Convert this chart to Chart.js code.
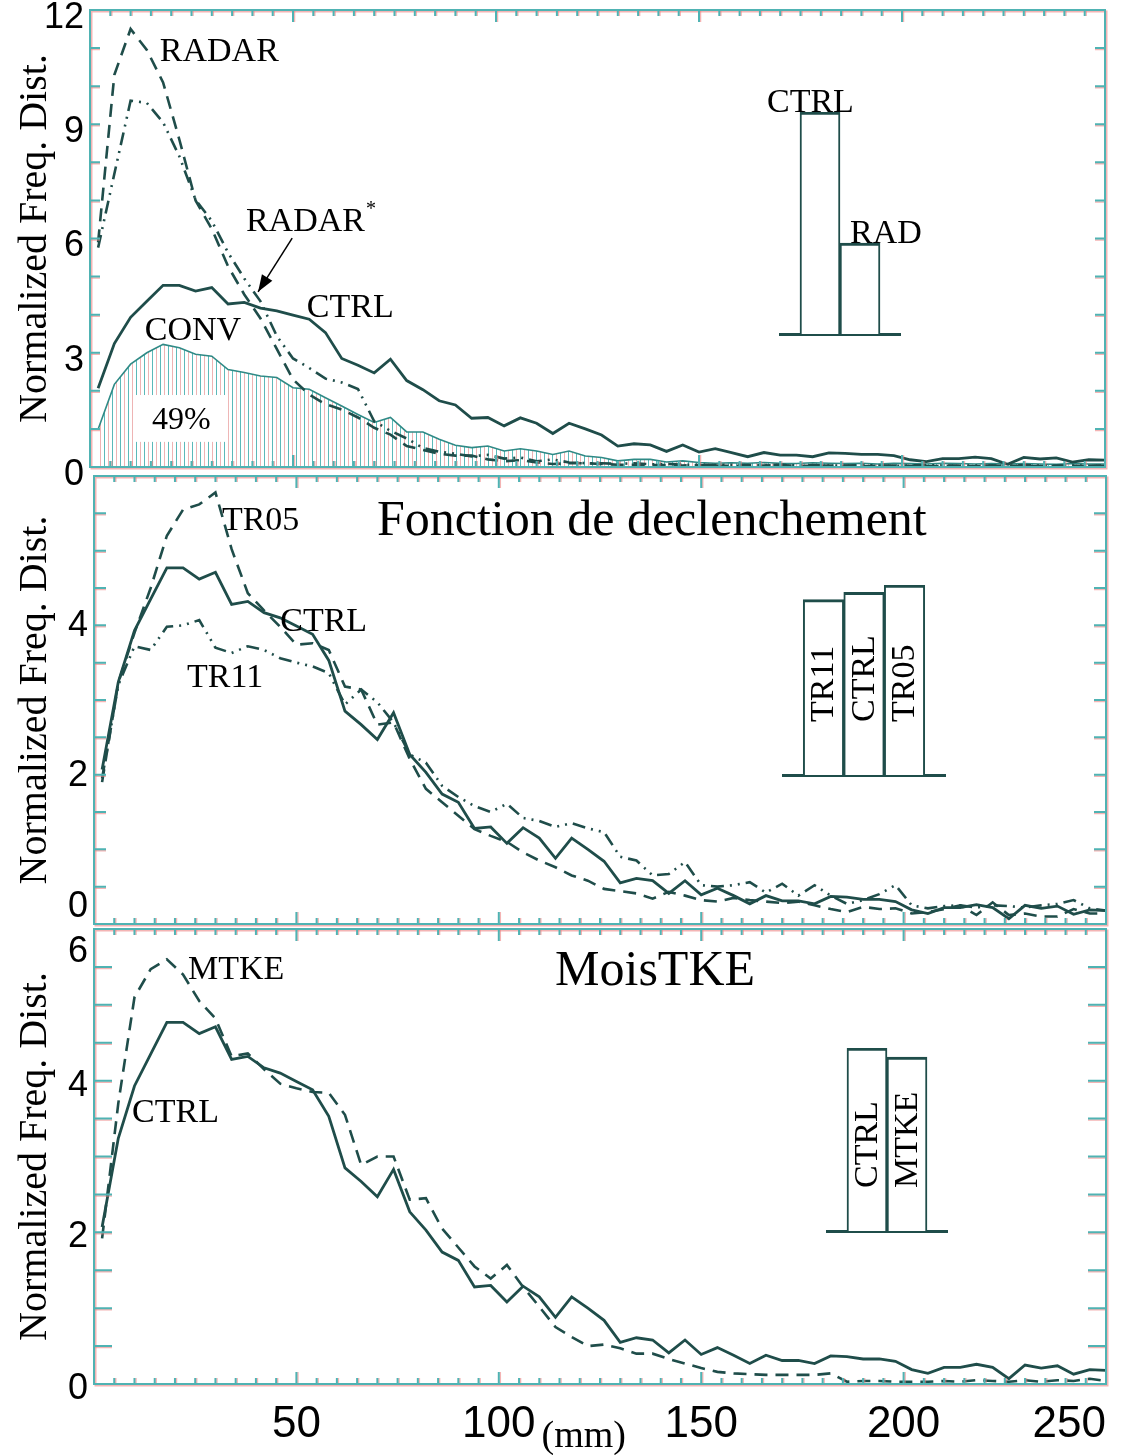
<!DOCTYPE html>
<html>
<head>
<meta charset="utf-8">
<script src="https://cdn.jsdelivr.net/npm/chart.js@4.4.0/dist/chart.umd.min.js"></script>
<style>
  body { margin: 0; background: #fff; width: 1131px; height: 1455px; position: relative; overflow: hidden; }
  canvas { position: absolute; }
</style>
</head>
<body>
<canvas id="p1" width="1131" height="500" style="left:0;top:0"></canvas>
<canvas id="p2" width="1131" height="510" style="left:0;top:440px"></canvas>
<canvas id="p3" width="1131" height="565" style="left:0;top:890px"></canvas>
<canvas id="b1" width="180" height="290" style="left:760px;top:60px"></canvas>
<canvas id="b2" width="202" height="230" style="left:763px;top:560px"></canvas>
<canvas id="b3" width="160" height="230" style="left:807px;top:1020px"></canvas>
<script>
// bin centres (mm)
const mm = [2, 6, 10, 14, 18, 22, 26, 30, 34, 38, 42, 46, 50, 54, 58, 62, 66, 70, 74, 78,
  82, 86, 90, 94, 98, 102, 106, 110, 114, 118, 122, 126, 130, 134, 138, 142, 146, 150, 154, 158,
  162, 166, 170, 174, 178, 182, 186, 190, 194, 198, 202, 206, 210, 214, 218, 222, 226, 230, 234, 238,
  242, 246, 250];

const ctrl = [2.07, 3.24, 3.93, 4.35, 4.77, 4.77, 4.62, 4.71, 4.28, 4.32,
  4.17, 4.10, 3.99, 3.88, 3.53, 2.85, 2.67, 2.47, 2.83, 2.27,
  2.03, 1.74, 1.63, 1.28, 1.30, 1.08, 1.29, 1.15, 0.88, 1.15,
  1.00, 0.84, 0.55, 0.61, 0.58, 0.41, 0.58, 0.39, 0.48, 0.38,
  0.27, 0.38, 0.31, 0.31, 0.27, 0.37, 0.36, 0.33, 0.33, 0.30,
  0.19, 0.14, 0.22, 0.22, 0.26, 0.22, 0.07, 0.25, 0.21, 0.24,
  0.13, 0.19, 0.18];

const radar = [5.9, 10.3, 11.5, 10.95, 10.1, 8.6, 7.0, 6.25, 5.27, 4.53,
  3.9, 3.1, 2.3, 1.9, 1.65, 1.51, 1.3, 1.03, 0.85, 0.55,
  0.45, 0.35, 0.3, 0.3, 0.2, 0.15, 0.18, 0.12, 0.08, 0.1,
  0.1, 0.08, 0.06, 0.06, 0.05, 0.05, 0.04, 0.05, 0.04, 0.03,
  0.04, 0.04, 0.05, 0.03, 0.03, 0.04, 0.03, 0.02, 0.03, 0.04,
  0.03, 0.02, 0.03, 0.03, 0.02, 0.04, 0.03, 0.03, 0.02, 0.03,
  0.03, 0.02, 0.03];

const radarStar = [5.76, 7.7, 9.62, 9.56, 9.05, 8.16, 7.02, 6.46, 5.63, 4.95,
  4.35, 3.44, 2.85, 2.6, 2.32, 2.22, 2.05, 1.2, 0.95, 0.75,
  0.5, 0.4, 0.35, 0.28, 0.32, 0.22, 0.25, 0.15, 0.2, 0.12,
  0.1, 0.1, 0.08, 0.1, 0.07, 0.08, 0.06, 0.06, 0.05, 0.06,
  0.05, 0.05, 0.06, 0.04, 0.05, 0.04, 0.04, 0.05, 0.04, 0.03,
  0.04, 0.05, 0.04, 0.03, 0.04, 0.04, 0.03, 0.05, 0.04, 0.03,
  0.04, 0.03, 0.04];

const conv = [0.99, 2.17, 2.70, 3.0, 3.22, 3.13, 2.96, 2.91, 2.56, 2.48,
  2.39, 2.35, 2.08, 2.04, 1.82, 1.60, 1.38, 1.17, 1.30, 0.92,
  0.92, 0.73, 0.57, 0.51, 0.55, 0.42, 0.48, 0.42, 0.33, 0.42,
  0.29, 0.25, 0.16, 0.20, 0.20, 0.13, 0.16, 0.12, 0.10, 0.11,
  0.10, 0.12, 0.10, 0.09, 0.11, 0.10, 0.09, 0.10, 0.08, 0.10,
  0.09, 0.08, 0.10, 0.09, 0.08, 0.09, 0.08, 0.09, 0.08, 0.07,
  0.09, 0.08, 0.08];

const tr05 = [1.90, 3.23, 3.90, 4.5, 5.2, 5.55, 5.62, 5.78, 5.02, 4.43,
  4.2, 3.98, 3.74, 3.76, 3.67, 3.18, 3.14, 2.67, 2.70, 2.21,
  1.81, 1.63, 1.45, 1.27, 1.18, 1.10, 0.96, 0.85, 0.76, 0.65,
  0.58, 0.47, 0.44, 0.41, 0.34, 0.43, 0.38, 0.32, 0.30, 0.35,
  0.32, 0.30, 0.28, 0.30, 0.25, 0.20, 0.16, 0.23, 0.20, 0.21,
  0.14, 0.16, 0.20, 0.25, 0.12, 0.29, 0.12, 0.14, 0.10, 0.10,
  0.20, 0.14, 0.14];

const tr11 = [1.95, 3.2, 3.72, 3.67, 3.98, 4.0, 4.07, 3.70, 3.63, 3.72,
  3.67, 3.56, 3.50, 3.45, 3.36, 2.94, 3.14, 2.97, 2.70, 2.27,
  2.16, 1.85, 1.70, 1.58, 1.50, 1.61, 1.42, 1.38, 1.30, 1.35,
  1.28, 1.23, 0.90, 0.85, 0.65, 0.67, 0.83, 0.52, 0.50, 0.52,
  0.56, 0.42, 0.54, 0.38, 0.52, 0.38, 0.27, 0.32, 0.40, 0.52,
  0.25, 0.21, 0.24, 0.25, 0.22, 0.25, 0.24, 0.22, 0.25, 0.27,
  0.32, 0.21, 0.18];

const mtke = [1.92, 3.7, 5.1, 5.47, 5.6, 5.4, 5.05, 4.82, 4.32, 4.36,
  4.15, 3.96, 3.90, 3.85, 3.84, 3.55, 2.89, 3.0, 3.0, 2.43,
  2.45, 2.05, 1.80, 1.55, 1.39, 1.57, 1.28, 1.02, 0.75, 0.62,
  0.50, 0.52, 0.47, 0.40, 0.40, 0.33, 0.27, 0.21, 0.16, 0.14,
  0.13, 0.12, 0.12, 0.12, 0.12, 0.14, 0.03, 0.04, 0.04, 0.03,
  0.03, 0.03, 0.04, 0.03, 0.05, 0.04, 0.03, 0.05, 0.03, 0.05,
  0.04, 0.07, 0.04];

// inset bars: relative totals
const bars1Labels = ['CTRL', 'RAD'];
const bars1 = [100, 41];
const bars2Labels = ['TR11', 'CTRL', 'TR05'];
const bars2 = [96, 100, 104];
const bars3Labels = ['CTRL', 'MTKE'];
const bars3 = [100, 95];

const LINE = '#1f4d4a';
const FRAME = '#4fb3b3';
const GHOST = 'rgba(236,130,130,0.6)';
const SERIF = '"Liberation Serif", "Times New Roman", serif';
const SANS = '"Liberation Sans", Arial, sans-serif';

const DASH = [13, 8];
const DASHDOT = [13, 6, 2, 6, 2, 6];

function hatch() {
    const c = document.createElement('canvas');
    c.width = 8; c.height = 8;
    const g = c.getContext('2d');
    g.fillStyle = '#fff'; g.fillRect(0, 0, 8, 8);
    g.fillStyle = '#5cb9b9'; g.fillRect(0, 0, 1, 8);
    g.fillStyle = '#eeb4b4'; g.fillRect(4, 0, 1, 8);
    return g.createPattern(c, 'repeat');
}

// box, inner tick marks
const frame = {
    id: 'frame',
    afterDraw(chart, args, o) {
        const { ctx, chartArea: a, scales: { x, y } } = chart;
        ctx.save();
        ctx.lineWidth = 1.5;
        for (const [col, d] of [[GHOST, 1.5], [FRAME, 0]]) {
            ctx.strokeStyle = col;
            ctx.beginPath();
            for (let v = 5; v < 250; v += 5) {
                const px = x.getPixelForValue(v) + d;
                const len = v % 50 === 0 ? o.xMajor : o.xMinor;
                ctx.moveTo(px, a.bottom); ctx.lineTo(px, a.bottom - len);
                ctx.moveTo(px, a.top); ctx.lineTo(px, a.top + len);
            }
            for (let v = y.min + o.yStep; v < y.max; v += o.yStep) {
                const py = y.getPixelForValue(v) + d;
                ctx.moveTo(a.left, py); ctx.lineTo(a.left + o.yLen, py);
                ctx.moveTo(a.right, py); ctx.lineTo(a.right - o.yLen, py);
            }
            ctx.stroke();
            ctx.lineWidth = 2;
            ctx.strokeRect(a.left + d, a.top + d, a.right - a.left, a.bottom - a.top);
        }
        ctx.restore();
    }
};

// text labels placed in data coordinates
const notes = {
    id: 'notes',
    afterDraw(chart, args, o) {
        const { ctx, scales: { x, y } } = chart;
        ctx.save();
        for (const n of o.items) {
            const px = x.getPixelForValue(n.x), py = y.getPixelForValue(n.y);
            if (n.box) {
                ctx.fillStyle = '#fff';
                const x0 = x.getPixelForValue(n.box[0]), x1 = x.getPixelForValue(n.box[1]);
                const y0 = y.getPixelForValue(n.box[2]), y1 = y.getPixelForValue(n.box[3]);
                ctx.fillRect(x0, y0, x1 - x0, y1 - y0);
            }
            if (n.arrow) {
                const tx = x.getPixelForValue(n.arrow[0]), ty = y.getPixelForValue(n.arrow[1]);
                const ang = Math.atan2(ty - py, tx - px);
                ctx.strokeStyle = '#000'; ctx.fillStyle = '#000'; ctx.lineWidth = 1.5;
                ctx.beginPath(); ctx.moveTo(px, py); ctx.lineTo(tx, ty); ctx.stroke();
                ctx.beginPath();
                ctx.moveTo(tx, ty);
                ctx.lineTo(tx - 18 * Math.cos(ang - 0.35), ty - 18 * Math.sin(ang - 0.35));
                ctx.lineTo(tx - 18 * Math.cos(ang + 0.35), ty - 18 * Math.sin(ang + 0.35));
                ctx.closePath(); ctx.fill();
                continue;
            }
            ctx.fillStyle = '#000';
            ctx.font = (n.size || 34) + 'px ' + SERIF;
            ctx.textAlign = n.align || 'left';
            ctx.textBaseline = 'middle';
            ctx.fillText(n.t, px, py);
        }
        ctx.restore();
    }
};

function mainChart(id, o) {
    return new Chart(document.getElementById(id), {
        type: 'line',
        data: {
            datasets: o.series.map(s => ({
                data: mm.map((v, i) => ({ x: v, y: s.values[i] })),
                borderColor: s.color || LINE,
                borderWidth: s.width || 2.6,
                borderDash: s.dash || [],
                pointRadius: 0,
                tension: 0,
                fill: s.fill ? 'origin' : false,
                backgroundColor: s.fill || 'transparent'
            }))
        },
        options: {
            responsive: false,
            animation: false,
            devicePixelRatio: 1,
            layout: { padding: { left: 0, right: o.right, top: o.top, bottom: 0 } },
            plugins: {
                legend: { display: false },
                tooltip: { enabled: false },
                frame: { xMajor: 12, xMinor: 6, yStep: o.minor, yLen: o.yLen },
                notes: { items: o.notes }
            },
            scales: {
                x: {
                    type: 'linear', min: 0, max: 250,
                    grid: { display: false, drawTicks: false },
                    border: { display: false },
                    ticks: {
                        display: !!o.xLabels, stepSize: 50, align: 'inner', padding: o.xPad || 0,
                        color: '#000', font: { family: SANS, size: 44 },
                        callback: v => (v === 0 ? '' : v)
                    },
                    afterFit: s => { s.height = o.xh; s.paddingLeft = 0; s.paddingRight = 0; }
                },
                y: {
                    min: 0, max: o.ymax,
                    grid: { display: false, drawTicks: false },
                    border: { display: false },
                    ticks: {
                        stepSize: o.step, padding: 6, labelOffset: o.labelOffset, color: '#000',
                        font: { family: SANS, size: 36, lineHeight: 1.0 },
                        callback: o.label
                    },
                    title: {
                        display: true, text: 'Normalized Freq. Dist.', color: '#000',
                        font: { family: SERIF, size: 40 }, padding: { top: 11, bottom: 0 }
                    },
                    afterFit: s => { s.width = o.yw; s.paddingTop = 0; s.paddingBottom = 0; }
                }
            }
        },
        plugins: [frame, notes]
    });
}

// inset bar charts
const barText = {
    id: 'barText',
    afterDatasetsDraw(chart, args, o) {
        const ctx = chart.ctx;
        ctx.save();
        ctx.fillStyle = '#000';
        ctx.font = '34px ' + SERIF;
        chart.getDatasetMeta(0).data.forEach((bar, i) => {
            const label = o.labels[i];
            if (o.rotate) {
                ctx.save();
                ctx.translate(bar.x + 1, bar.base - o.lift);
                ctx.rotate(-Math.PI / 2);
                ctx.textAlign = 'left';
                ctx.textBaseline = 'middle';
                ctx.fillText(label, 0, 0);
                ctx.restore();
            } else {
                ctx.textAlign = 'left';
                ctx.textBaseline = 'alphabetic';
                ctx.fillText(label, bar.x + o.dx[i], bar.y);
            }
        });
        ctx.restore();
    }
};

function insetChart(id, labels, vals, o) {
    return new Chart(document.getElementById(id), {
        type: 'bar',
        data: {
            datasets: [{
                data: vals.map((v, i) => ({ x: i + 1, y: v })),
                backgroundColor: '#fff',
                borderColor: LINE,
                borderWidth: { top: 3, left: 2, right: 2, bottom: 0 },
                barThickness: o.thick
            }]
        },
        options: {
            responsive: false,
            animation: false,
            devicePixelRatio: 1,
            layout: { padding: o.pad },
            plugins: {
                legend: { display: false },
                tooltip: { enabled: false },
                barText: { labels, rotate: o.rotate, lift: o.lift, dx: o.dx }
            },
            scales: {
                x: {
                    type: 'linear', min: 0, max: labels.length + 1, offset: false,
                    ticks: { display: false, stepSize: 1 },
                    grid: { display: false, drawTicks: false },
                    border: { display: true, color: LINE, width: 3 },
                    afterFit: s => { s.height = 0; s.paddingLeft = 0; s.paddingRight = 0; }
                },
                y: { display: false, min: 0, max: o.ymax }
            }
        },
        plugins: [barText]
    });
}

const convFill = hatch();

mainChart('p1', {
    top: 10, right: 26, xh: 33, yw: 90, ymax: 12, step: 3, minor: 1, yLen: 10, labelOffset: 8,
    label: v => v,
    series: [
        { values: ctrl, width: 2.8 },
        { values: radar, dash: DASH },
        { values: radarStar, dash: DASHDOT },
        { values: conv, width: 1.6, color: '#2f8a86', fill: convFill }
    ],
    notes: [
        { x: 11.1, y: 1.89, box: [11.1, 34, 1.89, 0.66], t: '' },
        { t: 'RADAR', x: 17.2, y: 10.9 },
        { t: 'RADAR', x: 38.4, y: 6.43 },
        { t: '*', x: 68, y: 6.75, size: 20 },
        { t: 'CTRL', x: 53.4, y: 4.18 },
        { t: 'CONV', x: 13.5, y: 3.57 },
        { t: '49%', x: 15.3, y: 1.21, size: 32 },
        { x: 49.8, y: 6.01, arrow: [41.4, 4.6] }
    ]
});

mainChart('p2', {
    top: 36, right: 25, xh: 26, yw: 94, ymax: 6, step: 2, minor: 0.5, yLen: 12, labelOffset: 1,
    label: v => (v === 6 ? '' : v === 0 ? ['0', ''] : v),
    series: [
        { values: ctrl, width: 2.8 },
        { values: tr05, dash: DASH },
        { values: tr11, dash: DASHDOT }
    ],
    notes: [
        { t: 'Fonction de declenchement', x: 69.9, y: 5.38, size: 50 },
        { t: 'TR05', x: 31.6, y: 5.40 },
        { t: 'CTRL', x: 46.0, y: 4.04 },
        { t: 'TR11', x: 23.0, y: 3.29 }
    ]
});

mainChart('p3', {
    top: 39, right: 25, xh: 71, yw: 94, ymax: 6, step: 2, minor: 0.5, yLen: 18, labelOffset: 5,
    label: v => (v === 6 ? ['', '6'] : v),
    xLabels: true, xPad: 14,
    series: [
        { values: ctrl, width: 2.8 },
        { values: mtke, dash: DASH }
    ],
    notes: [
        { t: 'MoisTKE', x: 113.9, y: 5.43, size: 50 },
        { t: 'MTKE', x: 23.2, y: 5.46 },
        { t: 'CTRL', x: 9.4, y: 3.57 },
        { t: '(mm)', x: 121, y: -0.70, size: 38, align: 'center' }
    ]
});

insetChart('b1', bars1Labels, bars1, { ymax: 100, thick: 40, pad: { left: 20, right: 40, top: 52, bottom: 16 }, dx: [-53, -10] });
insetChart('b2', bars2Labels, bars2, { ymax: 104, thick: 40.5, pad: { left: 20, right: 20, top: 25, bottom: 15 }, rotate: true, lift: 53 });
insetChart('b3', bars3Labels, bars3, { ymax: 100, thick: 40, pad: { left: 20, right: 20, top: 28, bottom: 19 }, rotate: true, lift: 43 });
</script>
</body>
</html>
